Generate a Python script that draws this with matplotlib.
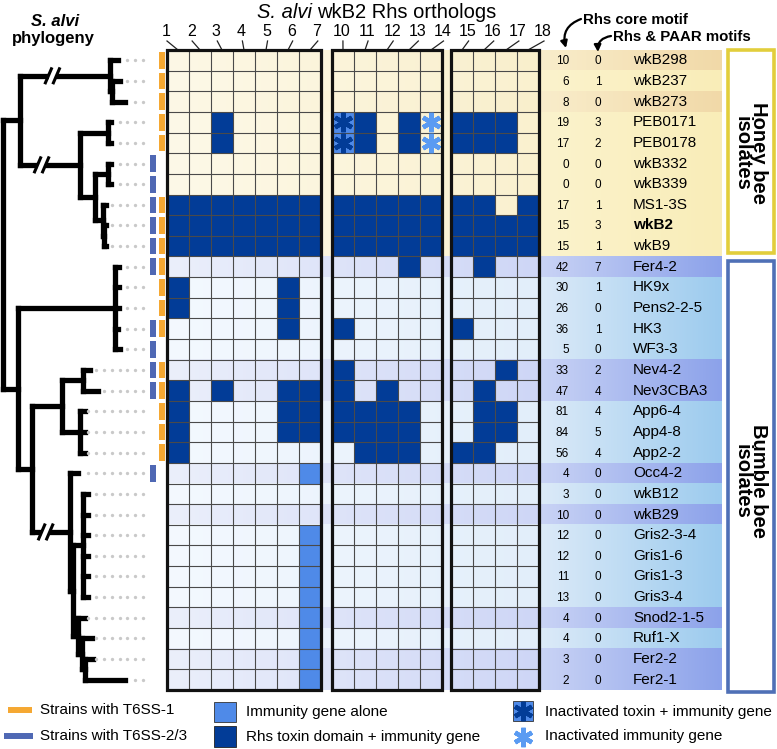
import numpy as np
import matplotlib.pyplot as plt
from matplotlib.patches import Rectangle
from matplotlib.colors import to_rgb

plt.rcParams['font.family'] = ['Liberation Sans', 'DejaVu Sans']

# ---- data ----
strains = ['wkB298', 'wkB237', 'wkB273', 'PEB0171', 'PEB0178', 'wkB332', 'wkB339',
           'MS1-3S', 'wkB2', 'wkB9',
           'Fer4-2', 'HK9x', 'Pens2-2-5', 'HK3', 'WF3-3', 'Nev4-2', 'Nev3CBA3',
           'App6-4', 'App4-8', 'App2-2', 'Occ4-2', 'wkB12', 'wkB29', 'Gris2-3-4',
           'Gris1-6', 'Gris1-3', 'Gris3-4', 'Snod2-1-5', 'Ruf1-X', 'Fer2-2', 'Fer2-1']
core_motif = [10, 6, 8, 19, 17, 0, 0, 17, 15, 15,
              42, 30, 26, 36, 5, 33, 47, 81, 84, 56, 4, 3, 10, 12, 12, 11, 13, 4, 4, 3, 2]
paar_motif = [0, 1, 0, 3, 2, 0, 0, 1, 3, 1,
              7, 1, 0, 1, 0, 2, 4, 4, 5, 4, 0, 0, 0, 0, 0, 0, 0, 0, 0, 0, 0]
t6ss1 = [1, 1, 1, 1, 1, 0, 0, 1, 1, 1,
         1, 1, 1, 1, 0, 1, 1, 1, 1, 1, 0, 0, 0, 0, 0, 0, 0, 0, 0, 0, 0]
t6ss23 = [0, 0, 0, 0, 0, 1, 1, 1, 1, 1,
          1, 0, 0, 1, 1, 1, 1, 0, 0, 0, 1, 0, 0, 0, 0, 0, 0, 0, 0, 0, 0]
# row shading: h = honey, t = honey (tan), s = bumble (sky), l = bumble (lavender)
row_tone = ['t', 'h', 't', 'h', 'h', 'h', 'h', 'h', 'h', 'h',
            'l', 's', 's', 's', 's', 'l', 'l', 's', 's', 's', 'l', 's', 'l',
            's', 's', 's', 's', 'l', 's', 'l', 'l']

ortholog_cols = ['1', '2', '3', '4', '5', '6', '7', '10', '11', '12', '13', '14',
                 '15', '16', '17', '18']
block_sizes = [7, 5, 4]
# R = Rhs toxin + immunity, I = immunity alone, T = inactivated toxin, i = inactivated immunity
orthologs = [
    '................',
    '................',
    '................',
    '..R....TR.RiRRR.',
    '..R....TR.RiRRR.',
    '................',
    '................',
    'RRRRRRRRRRRRRR.R',
    'RRRRRRRRRRRRRRRR',
    'RRRRRRRRRRRRRRRR',
    '..........R..R..',
    'R....R..........',
    'R....R..........',
    '.....R.R....R...',
    '................',
    '.......R......R.',
    'R.R..RRR.R...R..',
    'R....RRRRRR..RR.',
    'R....RRRRRR..RR.',
    'R.......RRR.RR..',
    '......I.........',
    '................',
    '................',
    '......I.........',
    '......I.........',
    '......I.........',
    '......I.........',
    '......I.........',
    '......I.........',
    '......I.........',
    '......I.........',
]

tree_newick = ("(((wkB298:8,(wkB237:8,wkB273:13):2)H1:90,"
               "((PEB0171:3,PEB0178:3):28,((wkB332:3,wkB339:3):13,"
               "(MS1-3S:3,(wkB2:2,wkB9:2):1):8):15)H2:60):17,"
               "((Fer4-2:4,HK9x:4,Pens2-2-5:4,HK3:3,WF3-3:5):97,"
               "(((Nev4-2:7,Nev3CBA3:15):21,(App6-4:5,App4-8:5,App2-2:5):18):30,"
               "(Occ4-2:8,((wkB12:5,wkB29:5,Gris2-3-4:5,Gris1-6:5,Gris1-3:5,Gris3-4:5):10,"
               "(Snod2-1-5:7,(Ruf1-X:10,(Fer2-2:8,Fer2-1:40):3):4):5):3)B2b:38):14):15);")
tree_breaks = ['H1', 'H2', 'B2b']

# ---- style ----
DARK = '#023C97'
IMMU = '#4F8AE8'
LIGHT_AST = '#5A9BF2'
ORANGE = '#F5A832'
T6BLUE = '#4F68B4'
tones = {
    'h': (('#FDF9E8', '#FAF1CF'), ('#FBF3CD', '#F9EDB8')),
    't': (('#FDF8E6', '#F9EFCC'), ('#F9EDCB', '#F1D9A8')),
    's': (('#F4F9FF', '#E2EEFA'), ('#DCEAF8', '#9CCBEE')),
    'l': (('#EBEFFB', '#CED6F6'), ('#C9D3F5', '#8CA2EA')),
}

GRID_TOP, GRID_BOT = 50, 690
RH = (GRID_BOT - GRID_TOP) / len(strains)
CW = 22
block_x0 = [167, 332, 451]
ROOT_X = 3

fig = plt.figure(figsize=(7.77, 7.49), dpi=100)
ax = fig.add_axes([0, 0, 1, 1])


def row_c(i):
    return GRID_TOP + (i + 0.5) * RH


def hgrad(x0, x1, y0, y1, c0, c1):
    t = np.linspace(0, 1, 80)[None, :, None]
    img = np.array(to_rgb(c0)) * (1 - t) + np.array(to_rgb(c1)) * t
    ax.imshow(img, extent=(x0, x1, y1, y0), aspect='auto',
              interpolation='bilinear', zorder=0)


# column left edges
col_left = []
for b, n in enumerate(block_sizes):
    for j in range(n):
        col_left.append(block_x0[b] + j * CW)

# row backgrounds
for i, tone in enumerate(row_tone):
    y0 = GRID_TOP + i * RH
    (g0, g1), (b0, b1) = tones[tone]
    hgrad(block_x0[0], 540, y0, y0 + RH, g0, g1)
    hgrad(540, 722, y0, y0 + RH, b0, b1)

# cells
for i, row in enumerate(orthologs):
    for j, v in enumerate(row):
        x = col_left[j]
        y = GRID_TOP + i * RH
        if v == 'R':
            ax.add_patch(Rectangle((x, y), CW, RH, facecolor=DARK, lw=0, zorder=1))
        elif v in 'IT':
            ax.add_patch(Rectangle((x, y), CW, RH, facecolor=IMMU, lw=0, zorder=1))
        if v == 'T':
            ax.plot(x + CW / 2, y + RH / 2, marker=(6, 2, 0), ms=14, mew=3.2,
                    color=DARK, zorder=3)
        elif v == 'i':
            ax.plot(x + CW / 2, y + RH / 2, marker=(6, 2, 0), ms=14, mew=3.2,
                    color=LIGHT_AST, zorder=3)

# grid lines and block outlines
for b, n in enumerate(block_sizes):
    x0 = block_x0[b]
    x1 = x0 + n * CW
    for j in range(1, n):
        ax.plot([x0 + j * CW] * 2, [GRID_TOP, GRID_BOT], color='#4a4a4a', lw=0.8, zorder=2)
    for i in range(1, len(strains)):
        yy = GRID_TOP + i * RH
        ax.plot([x0, x1], [yy, yy], color='#4a4a4a', lw=0.8, zorder=2)
    ax.add_patch(Rectangle((x0, GRID_TOP), n * CW, GRID_BOT - GRID_TOP, fill=False,
                           edgecolor='#111111', lw=2.3, zorder=4))

# column labels with leader lines
lab_x = np.linspace(166, 543, len(ortholog_cols))
for j, lab in enumerate(ortholog_cols):
    cx = col_left[j] + CW / 2
    ax.text(lab_x[j], 31, lab, ha='center', va='center', fontsize=11.5)
    ax.plot([lab_x[j] + 1, cx], [41, GRID_TOP], color='#222222', lw=0.9)

ax.text(312, 13, 'S. alvi', ha='right', va='center', fontsize=14.5, style='italic')
ax.text(317, 13, 'wkB2 Rhs orthologs', ha='left', va='center', fontsize=14.5)

# right-side numbers and names
for i, name in enumerate(strains):
    y = row_c(i)
    ax.text(569, y + 1, str(core_motif[i]), ha='right', va='center', fontsize=8.5)
    ax.text(598, y + 1, str(paar_motif[i]), ha='center', va='center', fontsize=8.5)
    ax.text(633, y, name, ha='left', va='center', fontsize=11,
            fontweight='bold' if name == 'wkB2' else 'normal')

ax.text(583, 20, 'Rhs core motif', ha='left', va='center', fontsize=10.8, fontweight='bold')
ax.text(613, 37, 'Rhs & PAAR motifs', ha='left', va='center', fontsize=10.8, fontweight='bold')
ax.annotate('', xy=(566, 48), xytext=(581, 19),
            arrowprops=dict(arrowstyle='-|>', connectionstyle='arc3,rad=0.45',
                            lw=1.6, color='k', mutation_scale=10, shrinkA=0, shrinkB=0))
ax.annotate('', xy=(598, 52), xytext=(611, 36),
            arrowprops=dict(arrowstyle='-|>', connectionstyle='arc3,rad=0.45',
                            lw=1.6, color='k', mutation_scale=10, shrinkA=0, shrinkB=0))

# group boxes
honey_bot = GRID_TOP + 10 * RH
ax.add_patch(Rectangle((728, GRID_TOP), 46, honey_bot - 3 - GRID_TOP, facecolor='white',
                       edgecolor='#E2CE3C', lw=2.6, zorder=2))
ax.add_patch(Rectangle((728, honey_bot + 5), 46, GRID_BOT + 2 - honey_bot - 5,
                       facecolor='white', edgecolor='#4F70B6', lw=2.6, zorder=2))
hc = (GRID_TOP + honey_bot) / 2
bc = (honey_bot + GRID_BOT) / 2 + 8
for yc, label in [(hc, 'Honey bee\nisolates'), (bc, 'Bumble bee\nisolates')]:
    ax.text(750, yc, label, rotation=-90, ha='center', va='center',
            multialignment='center', linespacing=0.82,
            fontsize=14.5, fontweight='bold', zorder=3)

# T6SS markers
for i in range(len(strains)):
    y0 = GRID_TOP + i * RH + 2
    if t6ss1[i]:
        ax.add_patch(Rectangle((159, y0), 6, RH - 4, facecolor=ORANGE, lw=0))
    if t6ss23[i]:
        ax.add_patch(Rectangle((150, y0), 6, RH - 4, facecolor=T6BLUE, lw=0))


# ---- phylogeny ----
def parse_newick(s):
    pos = 0

    def node():
        nonlocal pos
        kids = []
        if s[pos] == '(':
            pos += 1
            while True:
                kids.append(node())
                if s[pos] == ',':
                    pos += 1
                else:
                    break
            pos += 1
        st = pos
        while s[pos] not in ':,);':
            pos += 1
        name = s[st:pos]
        length = 0.0
        if s[pos] == ':':
            pos += 1
            st = pos
            while s[pos] not in ',);':
                pos += 1
            length = float(s[st:pos])
        return {'name': name, 'len': length, 'kids': kids}

    return node()


def layout(nd, px):
    nd['x'] = px + nd['len']
    if nd['kids']:
        for k in nd['kids']:
            layout(k, nd['x'])
        nd['y'] = (nd['kids'][0]['y'] + nd['kids'][-1]['y']) / 2
    else:
        nd['y'] = row_c(strains.index(nd['name']))


TLW = 3.8


def draw(nd):
    if not nd['kids']:
        dots = np.arange(143, nd['x'] + 3, -7.8)
        ax.plot(dots, [nd['y']] * len(dots), 'o', color='#C9C9C9', ms=2.4, mew=0)
        return
    ax.plot([nd['x']] * 2, [nd['kids'][0]['y'], nd['kids'][-1]['y']], color='k',
            lw=TLW, solid_capstyle='projecting')
    for k in nd['kids']:
        ax.plot([nd['x'], k['x']], [k['y'], k['y']], color='k', lw=TLW,
                solid_capstyle='projecting')
        if k['name'] in tree_breaks:
            bx = nd['x'] + 0.36 * k['len']
            ax.add_patch(Rectangle((bx - 3.5, k['y'] - 4), 7, 8, facecolor='white',
                                   lw=0, zorder=3))
            for dx in (-4, 4):
                ax.plot([bx + dx - 3, bx + dx + 3], [k['y'] + 7, k['y'] - 7], color='k',
                        lw=2.2, zorder=4)
        draw(k)


tree = parse_newick(tree_newick)
layout(tree, ROOT_X)
draw(tree)

ax.text(55, 21, 'S. alvi', ha='center', va='center', fontsize=12,
        fontweight='bold', style='italic')
ax.text(53, 39, 'phylogeny', ha='center', va='center', fontsize=12, fontweight='bold')

# ---- legend ----
ax.plot([8, 32], [710, 710], color=ORANGE, lw=4.3, solid_capstyle='butt')
ax.plot([4, 33], [736, 736], color=T6BLUE, lw=4.3, solid_capstyle='butt')
ax.text(40, 710, 'Strains with T6SS-1', ha='left', va='center', fontsize=11)
ax.text(40, 736, 'Strains with T6SS-2/3', ha='left', va='center', fontsize=11)

ax.add_patch(Rectangle((214, 702), 22, 20, facecolor=IMMU, edgecolor='#333333', lw=0.6))
ax.add_patch(Rectangle((214, 726), 22, 21, facecolor=DARK, edgecolor='#222222', lw=0.6))
ax.text(246, 712, 'Immunity gene alone', ha='left', va='center', fontsize=11)
ax.text(246, 737, 'Rhs toxin domain + immunity gene', ha='left', va='center', fontsize=11)

ax.add_patch(Rectangle((513, 701), 20, 20, facecolor=IMMU, edgecolor='#333333', lw=0.6))
ax.plot(523, 711, marker=(6, 2, 0), ms=14, mew=3.2, color=DARK)
ax.plot(523, 737, marker=(6, 2, 0), ms=14, mew=3.2, color=LIGHT_AST)
ax.text(545, 712, 'Inactivated toxin + immunity gene', ha='left', va='center', fontsize=11)
ax.text(545, 736, 'Inactivated immunity gene', ha='left', va='center', fontsize=11)

ax.set_xlim(0, 777)
ax.set_ylim(749, 0)
ax.axis('off')
fig.savefig('out.png', dpi=100)
